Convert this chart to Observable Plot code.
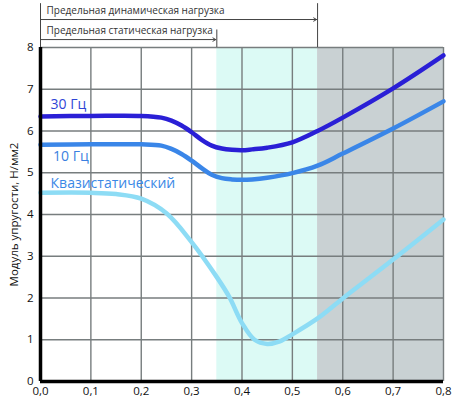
<!DOCTYPE html>
<html>
<head>
<meta charset="utf-8">
<script src="https://cdn.jsdelivr.net/npm/d3@7"></script>
<script src="https://cdn.jsdelivr.net/npm/@observablehq/plot@0.6"></script>
<style>
  html, body { margin: 0; padding: 0; background: #fff; }
</style>
</head>
<body>
<div id="chart"></div>
<script>
const xTicks = [0, 0.1, 0.2, 0.3, 0.4, 0.5, 0.6, 0.7, 0.8];
const yTicks = [0, 1, 2, 3, 4, 5, 6, 7, 8];

const x30 = [0, 0.1, 0.2, 0.24, 0.26, 0.28, 0.3, 0.32, 0.34, 0.36, 0.38, 0.4, 0.42, 0.45, 0.5, 0.55, 0.6, 0.7, 0.8];
const y30 = [6.35, 6.36, 6.36, 6.32, 6.25, 6.13, 5.97, 5.79, 5.65, 5.58, 5.55, 5.54, 5.56, 5.6, 5.73, 6.0, 6.32, 7.02, 7.81];

const x10 = [0, 0.1, 0.2, 0.24, 0.26, 0.28, 0.3, 0.32, 0.34, 0.36, 0.38, 0.4, 0.42, 0.45, 0.5, 0.55, 0.6, 0.7, 0.8];
const y10 = [5.67, 5.68, 5.68, 5.65, 5.57, 5.45, 5.29, 5.11, 4.95, 4.87, 4.84, 4.83, 4.84, 4.88, 4.99, 5.17, 5.46, 6.06, 6.71];

const xQ = [0, 0.1, 0.15, 0.2, 0.25, 0.3, 0.35, 0.375, 0.4, 0.425, 0.45, 0.475, 0.5, 0.55, 0.6, 0.7, 0.8];
const yQ = [4.52, 4.52, 4.49, 4.38, 4.03, 3.34, 2.5, 2.02, 1.4, 1.0, 0.9, 0.96, 1.13, 1.51, 1.99, 2.92, 3.88];

const seriesNames = ["30 Гц", "10 Гц", "Квазистатический"];
const seriesColors = ["#2a1fd6", "#3a86e8", "#8ddcf5"];
const labelColors = ["#2f45d6", "#3a7fe0", "#3a88e6"];
const labelX = [0.02, 0.025, 0.02];
const labelY = [6.63, 5.39, 4.74];

const bandStart = [0.35, 0.55];
const bandEnd = [0.55, 0.8];
const bandColors = ["#dcfaf5", "#c9d1d3"];

const limitLabels = ["Предельная динамическая нагрузка", "Предельная статическая нагрузка"];
const limitX = [0.55, 0.35];
const limitArrowY = [8.67, 8.19];
const limitTextY = [8.88, 8.39];
const limitTopY = [9.05, 8.42];

const series = [[x30, y30], [x10, y10], [xQ, yQ]].flatMap(([xs, ys], i) =>
  xs.map((x, j) => ({ x, y: ys[j], s: seriesNames[i] })));
const bands = bandStart.map((b, i) => ({ x1: b, x2: bandEnd[i], c: bandColors[i] }));
const labels = seriesNames.map((n, i) => ({ n, x: labelX[i], y: labelY[i], c: labelColors[i] }));
const limits = limitLabels.map((l, i) => ({ l, x: limitX[i], ya: limitArrowY[i], yt: limitTextY[i], yTop: limitTopY[i] }));

const chart = Plot.plot({
  width: 470,
  height: 400,
  marginLeft: 40,
  marginRight: 27,
  marginTop: 47,
  marginBottom: 19,
  style: { fontFamily: "'Open Sans', sans-serif", fontSize: "11px", color: "#111", background: "#fff" },
  x: { domain: [0, 0.8] },
  y: { domain: [0, 8] },
  color: { domain: seriesNames, range: seriesColors },
  marks: [
    Plot.rect(bands, { x1: "x1", x2: "x2", y1: 0, y2: 8, fill: "c" }),
    Plot.gridX(xTicks, { stroke: "#777d7e", strokeOpacity: 1, strokeWidth: 1.4 }),
    Plot.gridY(yTicks, { stroke: "#777d7e", strokeOpacity: 1, strokeWidth: 1.4 }),
    Plot.axisX({ ticks: xTicks, tickSize: 0, tickPadding: 5, tickFormat: d => d.toFixed(1).replace(".", ","), label: null, fontSize: 11.5 }),
    Plot.axisY({ ticks: yTicks, tickSize: 0, tickPadding: 7, label: "Модуль упругости, Н/мм2", labelAnchor: "center", labelArrow: "none", labelOffset: 31, fontSize: 11.5 }),
    Plot.line(series, { x: "x", y: "y", stroke: "s", strokeWidth: 4.5, curve: "catmull-rom" }),
    Plot.ruleX([0], { y1: 0, y2: 8, stroke: "#000", strokeWidth: 3.5 }),
    Plot.ruleY([0], { x1: 0, x2: 0.8, stroke: "#000", strokeWidth: 3.5 }),
    Plot.text(labels, { x: "x", y: "y", text: "n", fill: "c", textAnchor: "start", fontSize: 14 }),
    Plot.ruleX([0], { y1: 8, y2: 9.05, stroke: "#444", strokeWidth: 1 }),
    Plot.ruleX(limits, { x: "x", y1: 8, y2: "yTop", stroke: "#444", strokeWidth: 1 }),
    Plot.arrow(limits, { x1: 0, x2: "x", y1: "ya", y2: "ya", stroke: "#444", strokeWidth: 1, headLength: 5, insetEnd: 1 }),
    Plot.text(limits, { x: 0.012, y: "yt", text: "l", textAnchor: "start", fill: "#333", fontSize: 10 })
  ]
});
document.getElementById("chart").appendChild(chart);
</script>
</body>
</html>
